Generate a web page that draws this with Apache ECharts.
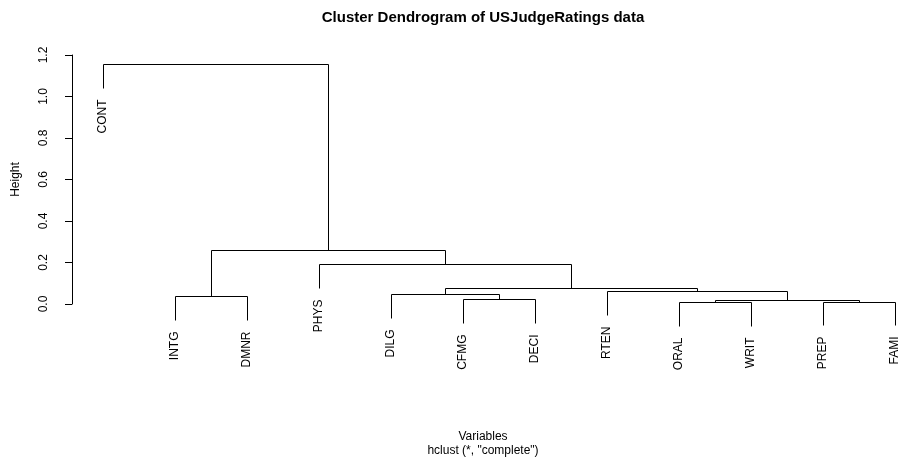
<!DOCTYPE html>
<html>
<head>
<meta charset="utf-8">
<script src="https://cdn.jsdelivr.net/npm/echarts@6/dist/echarts.min.js"></script>
<style>
  html, body { margin: 0; padding: 0; background: #fff; }
  #chart { width: 899px; height: 468px; }
</style>
</head>
<body>
<div id="chart"></div>
<script>
// leaves in plotting order (left to right)
const leaves = ['CONT', 'INTG', 'DMNR', 'PHYS', 'DILG', 'CFMG', 'DECI', 'RTEN', 'ORAL', 'WRIT', 'PREP', 'FAMI']
// merges: a string is a leaf, a number refers to an earlier merge (1-based, like hclust$merge)
const merges = [
  ['ORAL', 'WRIT'],
  ['PREP', 'FAMI'],
  [1, 2],
  ['CFMG', 'DECI'],
  ['INTG', 'DMNR'],
  ['DILG', 4],
  ['RTEN', 3],
  [6, 7],
  ['PHYS', 8],
  [5, 9],
  ['CONT', 10]
]
// merge heights
const heights = [0.0063, 0.0096, 0.0178, 0.0227, 0.035, 0.0467, 0.0593, 0.0757, 0.188, 0.259, 1.155]

const hang = 0.1 * (Math.max(...heights) - Math.min(...heights))

// position of every node: leaves at 1..n, merges at the midpoint of their children
const nodeX = merges.map(() => 0)
const childX = c => typeof c === 'string' ? leaves.indexOf(c) + 1 : nodeX[c - 1]
const childH = (c, h) => typeof c === 'string' ? h - hang : heights[c - 1]
merges.forEach((m, i) => {
  nodeX[i] = (childX(m[0]) + childX(m[1])) / 2
})

// one row per merge: [xLeft, xRight, height, heightLeft, heightRight]
const rows = merges.map((m, i) => [
  childX(m[0]), childX(m[1]), heights[i], childH(m[0], heights[i]), childH(m[1], heights[i])
])

const chart = echarts.init(document.getElementById('chart'))
const font = 'Liberation Sans, Arial, Helvetica, sans-serif'
const crisp = v => Math.round(v - 0.5) + 0.5

const renderItem = (params, api) => {
  const m = merges[params.dataIndex]
  const xl = api.value(0), xr = api.value(1), h = api.value(2)
  const hl = api.value(3), hr = api.value(4)
  const pts = [[xl, hl], [xl, h], [xr, h], [xr, hr]].map(p => {
    const c = api.coord(p)
    return [crisp(c[0]), crisp(c[1])]
  })
  const children = [{
    type: 'polyline',
    shape: { points: pts },
    style: { stroke: '#000', fill: null, lineWidth: 1 }
  }]
  ;[[m[0], pts[0]], [m[1], pts[3]]].forEach(([c, p]) => {
    if (typeof c !== 'string') return
    children.push({
      type: 'text',
      x: p[0] - 1,
      y: p[1] + 11,
      rotation: Math.PI / 2,
      style: {
        text: c,
        align: 'right',
        verticalAlign: 'middle',
        fill: '#000',
        font: '12px ' + font
      }
    })
  })
  return { type: 'group', children }
}

const option = {
  backgroundColor: '#fff',
  animation: false,
  textStyle: { fontFamily: font },
  grid: { left: 72, top: 55, right: 4, bottom: 164 },
  xAxis: {
    type: 'value',
    min: 0.555,
    max: 12,
    show: false
  },
  yAxis: {
    type: 'value',
    min: 0,
    max: 1.2,
    interval: 0.2,
    name: 'Height',
    nameLocation: 'middle',
    nameRotate: 90,
    nameGap: 50,
    nameTextStyle: { color: '#000', fontSize: 12, fontFamily: font },
    axisLine: { show: true, lineStyle: { color: '#000', width: 1 } },
    axisTick: { show: true, length: 7, lineStyle: { color: '#000' } },
    axisLabel: {
      rotate: 90,
      margin: 22,
      color: '#000',
      fontSize: 12,
      fontFamily: font,
      formatter: v => v.toFixed(1)
    },
    splitLine: { show: false }
  },
  series: [{
    type: 'custom',
    clip: false,
    renderItem,
    encode: { x: [0, 1], y: [2, 3, 4] },
    data: rows
  }],
  graphic: [
    {
      type: 'text', x: 483, y: 18,
      style: { text: 'Cluster Dendrogram of USJudgeRatings data', align: 'center', verticalAlign: 'middle',
        fill: '#000', font: 'bold 15px ' + font }
    },
    {
      type: 'text', x: 483, y: 437,
      style: { text: 'Variables', align: 'center', verticalAlign: 'middle', fill: '#000', font: '12px ' + font }
    },
    {
      type: 'text', x: 483, y: 451,
      style: { text: 'hclust (*, "complete")', align: 'center', verticalAlign: 'middle', fill: '#000', font: '12px ' + font }
    }
  ]
}

chart.setOption(option)
</script>
</body>
</html>
